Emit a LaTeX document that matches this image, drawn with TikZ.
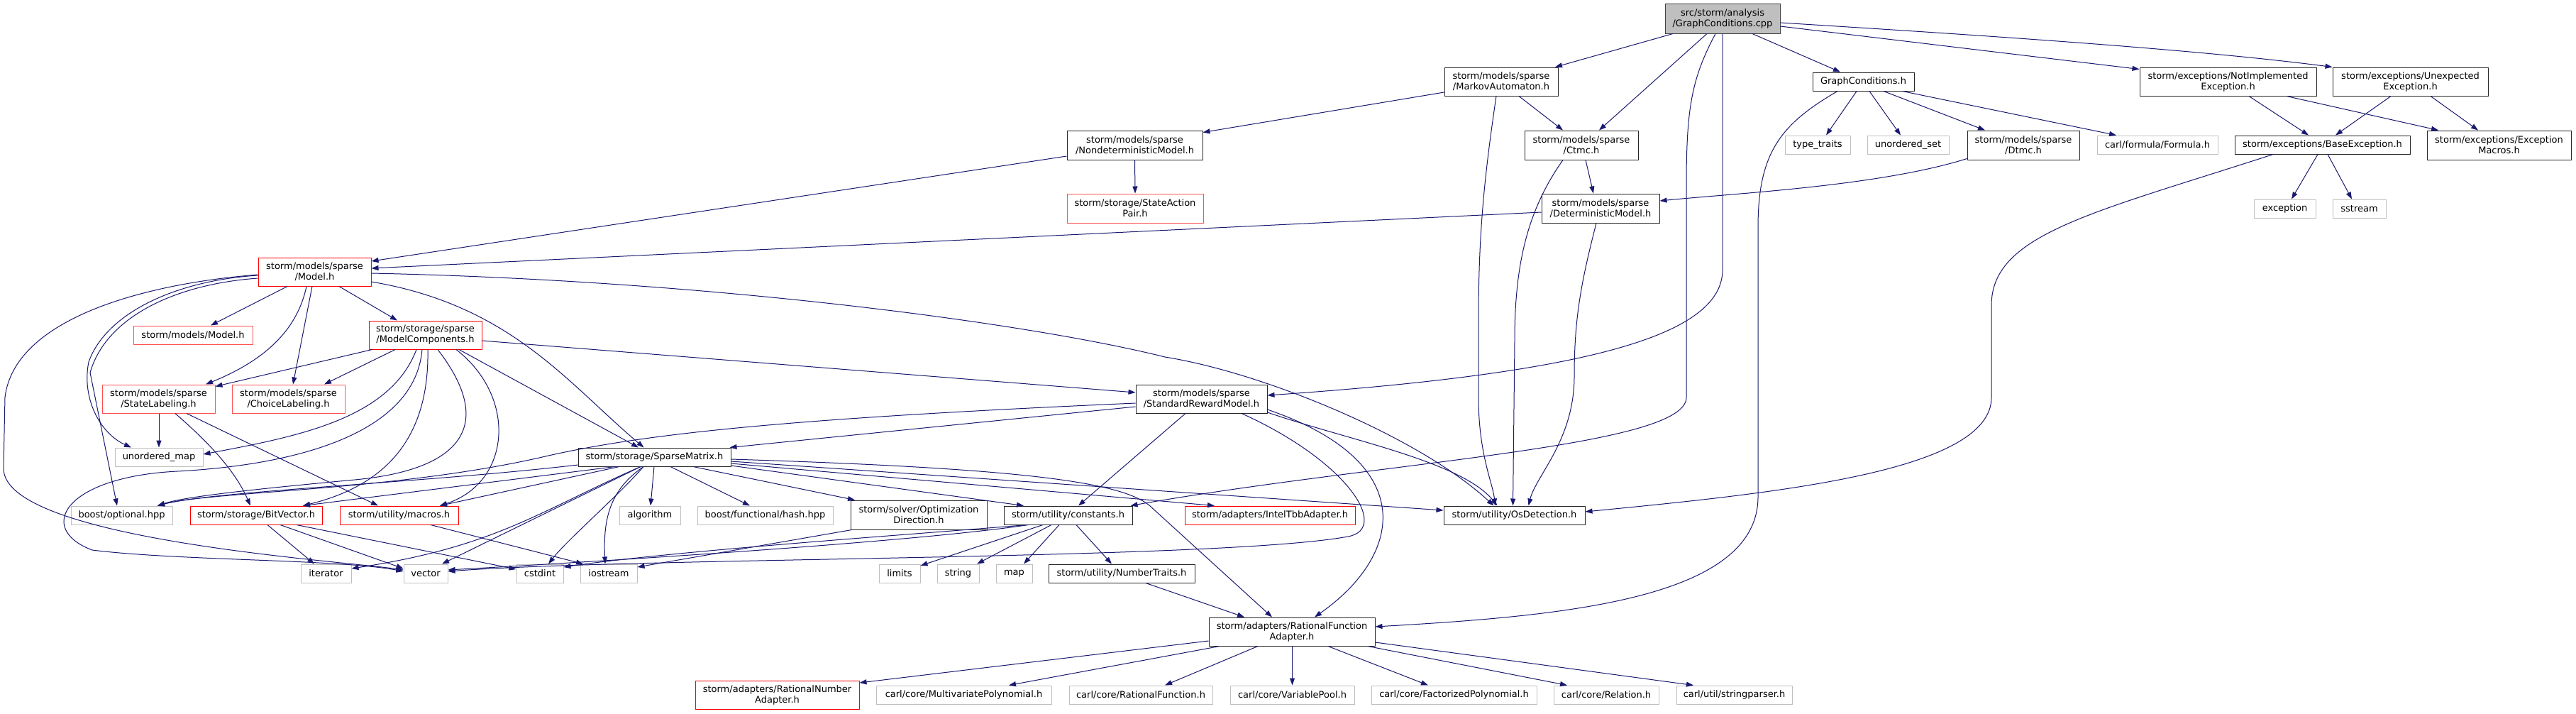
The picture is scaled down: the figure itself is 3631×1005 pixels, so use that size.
\documentclass[tikz,border=0pt]{standalone}
\usepackage{fontspec}
\setmainfont{DejaVu Sans}
\usetikzlibrary{arrows.meta}
\definecolor{edgeblue}{HTML}{191970}
\definecolor{sysgray}{HTML}{BFBFBF}
\definecolor{mainborder}{HTML}{404040}
\definecolor{lightred}{HTML}{FF5050}
\definecolor{boxborder}{HTML}{262626}
\tikzset{
  nb/.style={draw=boxborder, line width=1pt, inner sep=0pt, align=center, font=\fontsize{13pt}{15pt}\selectfont},
  sysb/.style={nb, draw=sysgray},
  redb/.style={nb, draw=red},
  redl/.style={nb, draw=lightred},
  mainb/.style={nb, fill=sysgray, draw=mainborder},
  dep/.style={draw=edgeblue, line width=1pt, -{Triangle[length=10pt,width=7pt]}},
}
\begin{document}
\begin{tikzpicture}[x=1pt,y=-1pt]
\fill[white] (0,0) rectangle (3631,1005);
\useasboundingbox (0,0) rectangle (3631,1005);

% ---------- nodes ----------
\node[mainb, minimum width=162pt, minimum height=42pt] (g) at (2428,26) {src/storm/analysis\\/GraphConditions.cpp};
\node[nb, minimum width=160pt, minimum height=40pt] (ma) at (2116,115) {storm/models/sparse\\/MarkovAutomaton.h};
\node[nb, minimum width=143pt, minimum height=26pt] (gch) at (2626.5,115) {GraphConditions.h};
\node[nb, minimum width=249pt, minimum height=40pt] (nie) at (3140.5,115) {storm/exceptions/NotImplemented\\Exception.h};
\node[nb, minimum width=219pt, minimum height=40pt] (ue) at (3397.5,115) {storm/exceptions/Unexpected\\Exception.h};
\node[nb, minimum width=191pt, minimum height=41pt] (ndm) at (1599.5,204.5) {storm/models/sparse\\/NondeterministicModel.h};
\node[nb, minimum width=160pt, minimum height=41pt] (ctmc) at (2229,204.5) {storm/models/sparse\\/Ctmc.h};
\node[sysb, minimum width=92pt, minimum height=26pt] (tt) at (2562,204) {type\_traits};
\node[sysb, minimum width=115pt, minimum height=26pt] (us) at (2689.5,204) {unordered\_set};
\node[nb, minimum width=158pt, minimum height=41pt] (dtmc) at (2852,204.5) {storm/models/sparse\\/Dtmc.h};
\node[sysb, minimum width=170pt, minimum height=26pt] (formula) at (3041,204) {carl/formula/Formula.h};
\node[nb, minimum width=247pt, minimum height=26pt] (be) at (3273.5,204) {storm/exceptions/BaseException.h};
\node[nb, minimum width=203pt, minimum height=41pt] (em) at (3522.5,204.5) {storm/exceptions/Exception\\Macros.h};
\node[redl, minimum width=192pt, minimum height=41pt] (sap) at (1600,293.5) {storm/storage/StateAction\\Pair.h};
\node[nb, minimum width=166pt, minimum height=41pt] (dm) at (2256,293.5) {storm/models/sparse\\/DeterministicModel.h};
\node[sysb, minimum width=87pt, minimum height=26pt] (exc) at (3220.5,294) {exception};
\node[sysb, minimum width=75pt, minimum height=26pt] (ss) at (3325.5,294) {sstream};
\node[redb, minimum width=159pt, minimum height=40pt] (model) at (443.5,383) {storm/models/sparse\\/Model.h};
\node[redl, minimum width=168pt, minimum height=26pt] (mmodel) at (272,472) {storm/models/Model.h};
\node[redb, minimum width=159pt, minimum height=40pt] (mc) at (599.5,472) {storm/storage/sparse\\/ModelComponents.h};
\node[redl, minimum width=159pt, minimum height=40pt] (sl) at (223.5,562) {storm/models/sparse\\/StateLabeling.h};
\node[redl, minimum width=159pt, minimum height=40pt] (cl) at (406.5,562) {storm/models/sparse\\/ChoiceLabeling.h};
\node[nb, minimum width=185pt, minimum height=40pt] (srm) at (1693.5,562) {storm/models/sparse\\/StandardRewardModel.h};
\node[sysb, minimum width=124pt, minimum height=26pt] (um) at (224,644) {unordered\_map};
\node[nb, minimum width=215pt, minimum height=26pt] (sm) at (922.5,644) {storm/storage/SparseMatrix.h};
\node[sysb, minimum width=143pt, minimum height=26pt] (bo) at (171.5,726) {boost/optional.hpp};
\node[redb, minimum width=186pt, minimum height=26pt] (bv) at (361,726) {storm/storage/BitVector.h};
\node[redb, minimum width=167pt, minimum height=26pt] (mac) at (562.5,726) {storm/utility/macros.h};
\node[sysb, minimum width=86pt, minimum height=26pt] (alg) at (916,726) {algorithm};
\node[sysb, minimum width=191pt, minimum height=26pt] (hash) at (1078.5,726) {boost/functional/hash.hpp};
\node[nb, minimum width=192pt, minimum height=41pt] (od) at (1295,725.5) {storm/solver/Optimization\\Direction.h};
\node[nb, minimum width=181pt, minimum height=26pt] (con) at (1505.5,726) {storm/utility/constants.h};
\node[redb, minimum width=240pt, minimum height=26pt] (tbb) at (1790,726) {storm/adapters/IntelTbbAdapter.h};
\node[nb, minimum width=199pt, minimum height=26pt] (os) at (2134.5,726) {storm/utility/OsDetection.h};
\node[sysb, minimum width=71pt, minimum height=26pt] (it) at (459.5,808) {iterator};
\node[sysb, minimum width=62pt, minimum height=26pt] (vec) at (600,808) {vector};
\node[sysb, minimum width=66pt, minimum height=26pt] (cst) at (761,808) {cstdint};
\node[sysb, minimum width=80pt, minimum height=26pt] (ios) at (858,808) {iostream};
\node[sysb, minimum width=58pt, minimum height=26pt] (lim) at (1268,808) {limits};
\node[sysb, minimum width=59pt, minimum height=26pt] (str) at (1350.5,808) {string};
\node[sysb, minimum width=51pt, minimum height=26pt] (map) at (1429.5,808) {map};
\node[nb, minimum width=206pt, minimum height=26pt] (nt) at (1581,808) {storm/utility/NumberTraits.h};
\node[nb, minimum width=234pt, minimum height=40pt] (rfa) at (1821,890) {storm/adapters/RationalFunction\\Adapter.h};
\node[redb, minimum width=231pt, minimum height=40pt] (rna) at (1095.5,979) {storm/adapters/RationalNumber\\Adapter.h};
\node[sysb, minimum width=247pt, minimum height=26pt] (mp) at (1358.5,979) {carl/core/MultivariatePolynomial.h};
\node[sysb, minimum width=202pt, minimum height=26pt] (rf) at (1608,979) {carl/core/RationalFunction.h};
\node[sysb, minimum width=175pt, minimum height=26pt] (vp) at (1821.5,979) {carl/core/VariablePool.h};
\node[sysb, minimum width=233pt, minimum height=26pt] (fp) at (2049.5,979) {carl/core/FactorizedPolynomial.h};
\node[sysb, minimum width=148pt, minimum height=26pt] (rel) at (2264,979) {carl/core/Relation.h};
\node[sysb, minimum width=163pt, minimum height=26pt] (sp) at (2444.5,979) {carl/util/stringparser.h};

% ---------- edges from GraphConditions.cpp ----------
\draw[dep] ([xshift=-70pt]g.south) -- ([xshift=76pt]ma.north);
\draw[dep] ([xshift=-22pt]g.south) -- ([xshift=25pt]ctmc.north);
\draw[dep] ([xshift=-10pt]g.south) .. controls (2385,110) and (2377,150) .. (2377,260) -- (2377,560) .. controls (2377,630) and (1950,650) .. ([xshift=88pt]con.north);
\draw[dep] (g.south) -- (2428,380) .. controls (2428,470) and (2250,525) .. ([yshift=5pt]srm.east);
\draw[dep] ([xshift=42pt]g.south) -- ([xshift=-32.5pt]gch.north);
\draw[dep] ([yshift=-11pt]g.east) -- ([yshift=-3pt]nie.north west);
\draw[dep] ([yshift=-6pt]g.east) .. controls (2800,50) and (3100,70) .. (ue.north west);

% ---------- MarkovAutomaton, Nondeterministic, Ctmc, Deterministic, Dtmc ----------
\draw[dep] ([yshift=-15pt]ma.west) -- ([yshift=-3pt]ndm.north east);
\draw[dep] ([xshift=25pt]ma.south) -- ([xshift=-26pt]ctmc.north);
\draw[dep] ([xshift=-7pt]ma.south) .. controls (2092,250) and (2084,330) .. (2084,450) -- (2084,560) .. controls (2084,640) and (2104,680) .. ([xshift=-27pt]os.north);
\draw[dep] ([yshift=-15.5pt]ndm.west) -- ([yshift=15pt]model.east);
\draw[dep] (ndm.south) -- (sap.north);
\draw[dep] ([xshift=6pt]ctmc.south) -- ([xshift=-10pt]dm.north);
\draw[dep] ([xshift=-26pt]ctmc.south) .. controls (2150,300) and (2135,380) .. (2135,480) -- ([xshift=-2pt]os.north);
\draw[dep] ([yshift=-5.5pt]dm.west) -- ([yshift=5pt]model.east);
\draw[dep] ([xshift=-6pt]dm.south) .. controls (2228,400) and (2219,450) .. (2219,530) .. controls (2219,620) and (2165,670) .. ([xshift=20pt]os.north);
\draw[dep] ([yshift=2pt]dtmc.south west) .. controls (2650,262) and (2450,272) .. ([yshift=10.5pt]dm.east);

% ---------- GraphConditions.h ----------
\draw[dep] ([xshift=-9.5pt]gch.south) -- ([xshift=12pt]tt.north);
\draw[dep] ([xshift=8.5pt]gch.south) -- ([xshift=-10.5pt]us.north);
\draw[dep] ([xshift=28.5pt]gch.south) -- ([xshift=-54pt]dtmc.north);
\draw[dep] ([xshift=55pt]gch.south) -- ([xshift=-58pt]formula.north);
\draw[dep] ([xshift=-36.5pt]gch.south) .. controls (2510,175) and (2478,215) .. (2478,320) -- (2478,700) .. controls (2478,845) and (2200,868) .. ([yshift=7pt]rfa.east);

% ---------- exceptions ----------
\draw[dep] ([xshift=29.5pt]nie.south) -- ([xshift=-19.5pt]be.north);
\draw[dep] ([xshift=82.5pt]nie.south) -- ([xshift=-85.5pt]em.north);
\draw[dep] ([xshift=-27.5pt]ue.south) -- ([xshift=18.5pt]be.north);
\draw[dep] ([xshift=28.5pt]ue.south) -- ([xshift=-29.5pt]em.north);
\draw[dep] ([xshift=-6.5pt]be.south) -- ([xshift=9.5pt]exc.north);
\draw[dep] ([xshift=7.5pt]be.south) -- ([xshift=-10.5pt]ss.north);
\draw[dep] ([xshift=-69.5pt]be.south) .. controls (2950,300) and (2807,330) .. (2807,430) -- (2807,560) .. controls (2807,665) and (2500,695) .. ([yshift=5pt]os.east);

% ---------- Model.h ----------
\draw[dep] ([xshift=-38.5pt]model.south) -- ([xshift=25pt]mmodel.north);
\draw[dep] ([xshift=34.5pt]model.south) -- ([xshift=-39.5pt]mc.north);
\draw[dep] ([yshift=-14pt]model.east) .. controls (720,430) and (800,540) .. ([xshift=-15pt]sm.north);
\draw[dep] ([yshift=-2pt]model.east) .. controls (1000,395) and (1450,455) .. (1642,503) .. controls (1780,525) and (2000,615) .. ([xshift=-29pt]os.north);
\draw[dep] ([yshift=-5pt]model.west) .. controls (250,395) and (150,440) .. (125,510) .. controls (115,560) and (140,610) .. ([xshift=-39pt]um.north);
\draw[dep] ([yshift=-9pt]model.west) .. controls (250,400) and (150,445) .. (127,525) -- ([xshift=-6.5pt]bo.north);
\draw[dep] ([yshift=-4pt]model.west) .. controls (200,400) and (20,450) .. (7,560) -- (5,660) .. controls (5,760) and (480,790) .. ([yshift=5pt]vec.west);
\draw[dep] ([xshift=-11.5pt]model.south) .. controls (420,460) and (380,505) .. ([xshift=66.5pt]sl.north);
\draw[dep] ([xshift=-3.5pt]model.south) -- ([xshift=6.5pt]cl.north);

% ---------- ModelComponents.h ----------
\draw[dep] ([xshift=5pt]mc.south west) -- ([yshift=-3pt]sl.north east);
\draw[dep] ([xshift=-42.5pt]mc.south) -- ([xshift=50.5pt]cl.north);
\draw[dep] ([xshift=-12.5pt]mc.south) .. controls (550,590) and (420,615) .. ([yshift=4pt]um.east);
\draw[dep] ([xshift=-4.5pt]mc.south) .. controls (585,610) and (420,655) .. (250,664) .. controls (90,672) and (50,745) .. (130,775) .. controls (250,790) and (480,788) .. ([yshift=3pt]vec.west);
\draw[dep] ([xshift=3.5pt]mc.south) .. controls (605,600) and (560,680) .. ([xshift=66pt]bv.north);
\draw[dep] ([xshift=17.5pt]mc.south) .. controls (700,600) and (650,662) .. (500,676) .. controls (350,690) and (260,700) .. ([xshift=50.5pt]bo.north);
\draw[dep] ([xshift=43.5pt]mc.south) .. controls (730,560) and (720,680) .. ([xshift=57.5pt]mac.north);
\draw[dep] ([xshift=47.5pt]mc.south) -- ([xshift=-22.5pt]sm.north);
\draw[dep] ([yshift=-8pt]mc.east) -- ([yshift=9pt]srm.west);

% ---------- StateLabeling.h ----------
\draw[dep] ([xshift=0.5pt]sl.south) -- (um.north);
\draw[dep] ([xshift=23.5pt]sl.south) .. controls (290,620) and (330,660) .. ([xshift=-8pt]bv.north);
\draw[dep] ([xshift=39.5pt]sl.south) -- ([xshift=-29.5pt]mac.north);

% ---------- SparseMatrix.h ----------
\draw[dep] ([yshift=-11pt]sm.west) .. controls (600,680) and (300,692) .. ([xshift=50.5pt]bo.north);
\draw[dep] ([xshift=-55.5pt]sm.south) -- ([xshift=66pt]bv.north);
\draw[dep] ([xshift=-49.5pt]sm.south) -- ([xshift=57.5pt]mac.north);
\draw[dep] ([xshift=-19.5pt]sm.south) .. controls (760,720) and (700,770) .. ([yshift=7pt]it.east);
\draw[dep] ([xshift=-19.5pt]sm.south) -- ([xshift=23pt]vec.north);
\draw[dep] ([xshift=-15.5pt]sm.south) .. controls (870,700) and (800,760) .. ([xshift=12pt]cst.north);
\draw[dep] ([xshift=-15.5pt]sm.south) .. controls (860,690) and (850,730) .. ([xshift=-5pt]ios.north);
\draw[dep] ([xshift=-0.5pt]sm.south) -- ([xshift=1pt]alg.north);
\draw[dep] ([xshift=22.5pt]sm.south) -- ([xshift=-21.5pt]hash.north);
\draw[dep] ([xshift=54.5pt]sm.south) -- ([xshift=-90pt]od.north);
\draw[dep] ([yshift=-12pt]sm.east) -- ([xshift=-62.5pt]con.north);
\draw[dep] ([yshift=-9pt]sm.east) -- ([xshift=-78pt]tbb.north);
\draw[dep] ([yshift=-6pt]sm.east) -- ([yshift=7pt]os.west);
\draw[dep] ([yshift=-3pt]sm.east) .. controls (1450,660) and (1580,680) .. (1620,712) -- ([xshift=-28pt]rfa.north);

% ---------- StandardRewardModel.h ----------
\draw[dep] ([yshift=-6pt]srm.west) .. controls (1100,590) and (900,612) .. (760,645) .. controls (550,692) and (300,692) .. ([xshift=50.5pt]bo.north);
\draw[dep] ([yshift=-11pt]srm.west) -- ([xshift=-2pt]sm.north east);
\draw[dep] ([xshift=-22.5pt]srm.south) -- ([xshift=14.5pt]con.north);
\draw[dep] ([xshift=56.5pt]srm.south) .. controls (1900,650) and (1960,745) .. (1900,756) .. controls (1720,789) and (900,785) .. ([yshift=3pt]vec.east);
\draw[dep] ([yshift=-15pt]srm.east) .. controls (2000,650) and (1980,780) .. ([xshift=32pt]rfa.north);
\draw[dep] ([yshift=-19pt]srm.east) .. controls (1900,620) and (2060,650) .. ([xshift=-24pt]os.north);

% ---------- OptimizationDirection, constants, NumberTraits ----------
\draw[dep] ([xshift=2pt]od.south west) -- ([yshift=9pt]ios.east);
\draw[dep] ([xshift=-56pt]con.south) .. controls (1300,762) and (900,788) .. ([yshift=5pt]vec.east);
\draw[dep] ([xshift=-58pt]con.south) .. controls (1300,752) and (950,776) .. ([yshift=9pt]cst.east);
\draw[dep] ([xshift=-35.5pt]con.south) -- ([yshift=11pt]lim.east);
\draw[dep] ([xshift=-23.5pt]con.south) -- ([xshift=26.5pt]str.north);
\draw[dep] ([xshift=-12.5pt]con.south) -- ([xshift=13.5pt]map.north);
\draw[dep] ([xshift=11.5pt]con.south) -- ([xshift=-14pt]nt.north);
\draw[dep] ([xshift=34pt]nt.south) -- ([xshift=-67pt]rfa.north);

% ---------- RationalFunctionAdapter.h ----------
\draw[dep] ([yshift=-13pt]rfa.west) -- ([yshift=17pt]rna.east);
\draw[dep] ([xshift=-102pt]rfa.south) -- ([xshift=63.5pt]mp.north);
\draw[dep] ([xshift=-48pt]rfa.south) -- ([xshift=34pt]rf.north);
\draw[dep] ([xshift=0.5pt]rfa.south) -- (vp.north);
\draw[dep] ([xshift=51pt]rfa.south) -- ([xshift=-36.5pt]fp.north);
\draw[dep] ([xshift=107pt]rfa.south) -- ([xshift=-55pt]rel.north);
\draw[dep] ([yshift=-15pt]rfa.east) -- ([xshift=-57.5pt]sp.north);

% ---------- BitVector.h, macros.h ----------
\draw[dep] ([xshift=16pt]bv.south) -- ([xshift=-16.5pt]it.north);
\draw[dep] ([xshift=34pt]bv.south) -- ([yshift=7pt]vec.west);
\draw[dep] ([xshift=57pt]bv.south) -- ([yshift=6pt]cst.west);
\draw[dep] ([xshift=44.5pt]mac.south) -- ([xshift=-36pt]ios.north);
\end{tikzpicture}
\end{document}
